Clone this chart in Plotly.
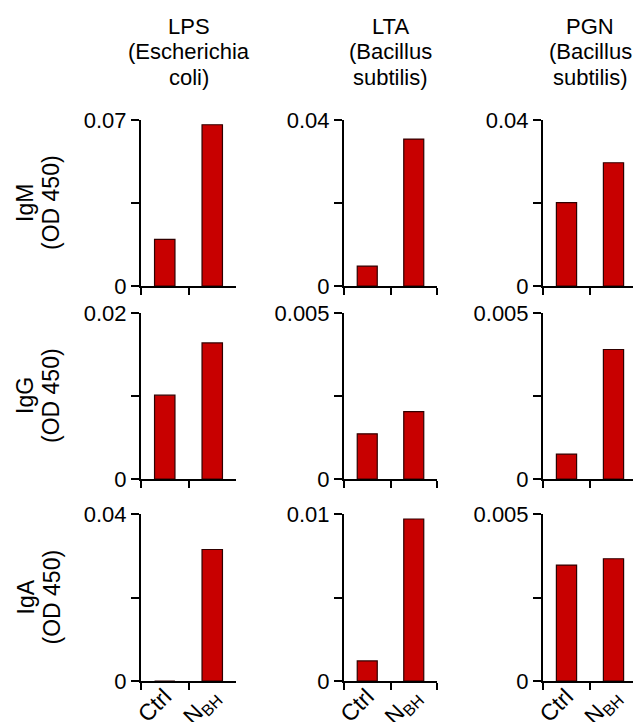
import plotly.graph_objects as go

# ---- data ----
categories = ["Ctrl", "N<sub>BH</sub>"]
antigen_titles = [["LPS", "(Escherichia", "coli)"],
                  ["LTA", "(Bacillus", "subtilis)"],
                  ["PGN", "(Bacillus", "subtilis)"]]
isotype_titles = [["IgM", "(OD 450)"], ["IgG", "(OD 450)"], ["IgA", "(OD 450)"]]

igm_lps = [0.0197, 0.0680]
igm_lta = [0.0048, 0.0354]
igm_pgn = [0.0201, 0.0297]
igg_lps = [0.0101, 0.0164]
igg_lta = [0.00136, 0.00203]
igg_pgn = [0.00075, 0.0039]
iga_lps = [0.0, 0.0315]
iga_lta = [0.0012, 0.0097]
iga_pgn = [0.00347, 0.00366]

values = [[igm_lps, igm_lta, igm_pgn],
          [igg_lps, igg_lta, igg_pgn],
          [iga_lps, iga_lta, iga_pgn]]
ymax = [[0.07, 0.04, 0.04],
        [0.02, 0.005, 0.005],
        [0.04, 0.01, 0.005]]
ymax_labels = [["0.07", "0.04", "0.04"],
               ["0.02", "0.005", "0.005"],
               ["0.04", "0.01", "0.005"]]

# ---- layout helpers ----
W, H = 641, 722
OFF = 8  # page body margin in the browser
FONT = "Liberation Sans, Arial, Helvetica, sans-serif"
BAR = "#C80000"
col_px = [(141, 236), (344, 437), (543, 637)]
row_px = [(120, 286), (313, 479), (514, 681)]


def fx(x):
    return (x - OFF) / W


def fy(y):
    return 1 - (y - OFF) / H


fig = go.Figure()
layout = {}
for r in range(3):
    for c in range(3):
        idx = r * 3 + c + 1
        sfx = "" if idx == 1 else str(idx)
        xa, ya = "x" + sfx, "y" + sfx
        fig.add_trace(go.Bar(
            x=categories, y=values[r][c], xaxis=xa, yaxis=ya,
            width=0.43, showlegend=False,
            marker=dict(color=BAR, line=dict(color="#300000", width=1.2)),
        ))
        x0, x1 = col_px[c]
        y0, y1 = row_px[r]
        layout["xaxis" + sfx] = dict(
            domain=[fx(x0), fx(x1)], anchor=ya, type="category",
            range=[-0.5, 1.5], tickson="boundaries", automargin=False,
            ticks="outside", ticklen=7, tickwidth=2, tickcolor="black",
            showline=True, linewidth=2, linecolor="black",
            showgrid=False, zeroline=False,
            showticklabels=(r == 2), tickangle=-45, ticklabelstandoff=-9,
            tickfont=dict(family=FONT, size=23, color="black"),
        )
        m = ymax[r][c]
        layout["yaxis" + sfx] = dict(
            domain=[fy(y1), fy(y0)], anchor=xa, range=[0, m],
            automargin=False,
            tickmode="array", tickvals=[0, m / 2, m],
            ticktext=["0", "", ymax_labels[r][c]],
            ticks="outside", ticklen=8, tickwidth=2, tickcolor="black",
            showline=True, linewidth=2, linecolor="black",
            showgrid=False, zeroline=False,
            tickfont=dict(family=FONT, size=22, color="black"),
        )

annotations = []
title_line_y = [26.5, 52, 77.5]
for c, lines in enumerate(antigen_titles):
    cx = (col_px[c][0] + col_px[c][1]) / 2
    for i, t in enumerate(lines):
        annotations.append(dict(
            text=t, xref="paper", yref="paper", x=fx(cx), y=fy(title_line_y[i]),
            xanchor="center", yanchor="middle", showarrow=False,
            font=dict(family=FONT, size=22, color="black"),
        ))

ytitle_line_x = [25, 51]
for r, lines in enumerate(isotype_titles):
    cy = (row_px[r][0] + row_px[r][1]) / 2
    for i, t in enumerate(lines):
        annotations.append(dict(
            text=t, xref="paper", yref="paper", x=fx(ytitle_line_x[i]), y=fy(cy),
            xanchor="center", yanchor="middle", showarrow=False, textangle=-90,
            font=dict(family=FONT, size=23, color="black"),
        ))

fig.update_layout(
    width=W, height=H, margin=dict(l=0, r=0, t=0, b=0, autoexpand=False),
    plot_bgcolor="white", paper_bgcolor="white",
    annotations=annotations, bargap=0.5,
    **layout,
)

fig.write_html("out.html")
